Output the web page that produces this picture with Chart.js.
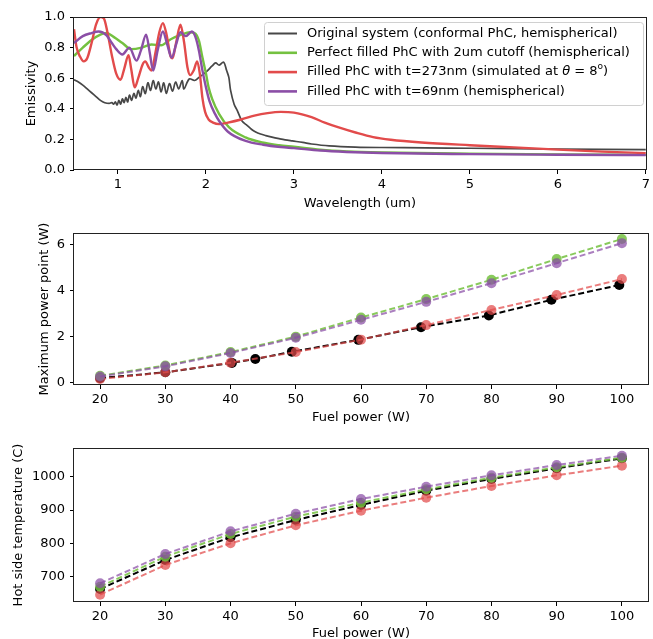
<!DOCTYPE html>
<html>
<head>
<meta charset="utf-8">
<script src="https://cdn.jsdelivr.net/npm/chart.js@4.4.1/dist/chart.umd.min.js"></script>
<style>
  html, body { margin:0; padding:0; background:#fff; overflow:hidden; }
  .box { position:absolute; left:0; width:653px; }
</style>
</head>
<body>
<div class="box" style="top:0;height:215px"><canvas id="c1" width="653" height="215" style="width:653px;height:215px"></canvas></div>
<div class="box" style="top:215px;height:210px"><canvas id="c2" width="653" height="210" style="width:653px;height:210px"></canvas></div>
<div class="box" style="top:425px;height:220px"><canvas id="c3" width="653" height="220" style="width:653px;height:220px"></canvas></div>
<script>
// ====== DATA: emissivity spectra ======
const lamGray  = [0.50,0.55,0.60,0.65,0.70,0.75,0.80,0.85,0.90,0.93,0.95,0.97,0.99,1.01,1.03,1.05,1.07,1.09,1.11,1.13,1.155,1.18,1.205,1.23,1.255,1.28,1.31,1.34,1.37,1.40,1.43,1.46,1.49,1.52,1.55,1.585,1.62,1.655,1.69,1.73,1.75,1.81,1.87,1.92,2.00,2.07,2.11,2.15,2.20,2.235,2.26,2.28,2.32,2.355,2.41,2.47,2.52,2.56,2.62,2.68,2.75,2.83,2.90,2.98,3.10,3.20,3.40,3.70,4.00,4.50,5.00,6.00,7.00];
const emisGray = [0.59,0.575,0.555,0.53,0.505,0.48,0.455,0.44,0.435,0.44,0.43,0.445,0.425,0.455,0.43,0.465,0.44,0.475,0.445,0.49,0.455,0.50,0.47,0.52,0.48,0.545,0.50,0.57,0.52,0.585,0.53,0.575,0.51,0.57,0.50,0.565,0.515,0.575,0.53,0.585,0.53,0.595,0.585,0.605,0.64,0.68,0.70,0.685,0.705,0.65,0.605,0.52,0.43,0.39,0.32,0.29,0.265,0.25,0.235,0.225,0.215,0.205,0.197,0.19,0.18,0.17,0.158,0.15,0.147,0.145,0.142,0.137,0.133];

const lamGreen  = [0.50,0.60,0.70,0.80,0.87,0.95,1.05,1.15,1.27,1.38,1.49,1.60,1.72,1.82,1.87,1.92,1.96,2.00,2.03,2.07,2.15,2.26,2.45,2.64,2.83,3.00,3.30,3.60,4.00,5.00,6.00,7.00];
const emisGreen = [0.745,0.80,0.85,0.885,0.895,0.87,0.83,0.79,0.80,0.82,0.815,0.855,0.885,0.90,0.895,0.845,0.735,0.63,0.54,0.465,0.365,0.28,0.213,0.18,0.162,0.152,0.133,0.122,0.115,0.107,0.102,0.099];

const lamRed  = [0.50,0.53,0.57,0.61,0.65,0.70,0.75,0.80,0.84,0.88,0.93,0.98,1.03,1.07,1.12,1.15,1.19,1.23,1.28,1.31,1.35,1.38,1.43,1.47,1.51,1.55,1.60,1.62,1.66,1.71,1.75,1.79,1.82,1.86,1.90,1.93,1.96,1.99,2.03,2.08,2.15,2.25,2.40,2.55,2.70,2.85,3.00,3.20,3.35,3.50,3.70,3.90,4.10,4.45,5.00,5.50,6.00,6.50,7.00];
const emisRed = [0.92,0.80,0.74,0.71,0.73,0.83,0.95,1.00,0.99,0.90,0.75,0.63,0.59,0.66,0.75,0.66,0.54,0.60,0.69,0.71,0.67,0.65,0.78,0.90,0.96,0.89,0.74,0.73,0.83,0.95,0.84,0.67,0.62,0.65,0.71,0.63,0.47,0.38,0.33,0.31,0.30,0.31,0.33,0.355,0.372,0.38,0.375,0.345,0.31,0.28,0.245,0.215,0.198,0.18,0.162,0.148,0.133,0.12,0.11];

const lamPurple  = [0.50,0.60,0.70,0.78,0.87,0.93,0.98,1.05,1.13,1.21,1.26,1.32,1.36,1.40,1.45,1.51,1.56,1.61,1.66,1.71,1.77,1.84,1.88,1.92,1.96,2.00,2.04,2.10,2.15,2.25,2.45,2.65,2.85,3.00,3.30,3.60,4.00,5.00,6.00,7.00];
const emisPurple = [0.83,0.875,0.895,0.905,0.88,0.83,0.79,0.755,0.80,0.715,0.78,0.885,0.77,0.65,0.78,0.905,0.82,0.735,0.82,0.90,0.875,0.905,0.87,0.78,0.65,0.54,0.45,0.37,0.32,0.25,0.19,0.165,0.15,0.143,0.127,0.118,0.111,0.104,0.10,0.097];

const lamTicks = [1,2,3,4,5,6,7];
const emisTicks = [0,0.2,0.4,0.6,0.8,1.0];

// ====== DATA: fuel power sweeps ======
const fuel = [20,30,40,50,60,70,80,90,100];
const fuelBlack = [20,30,40.2,43.8,49.4,59.6,69.2,79.6,89.2,99.6];
const mppBlack  = [0.20,0.45,0.86,1.03,1.34,1.86,2.41,2.92,3.60,4.24];
const mppGreen  = [0.30,0.75,1.33,2.00,2.83,3.63,4.47,5.37,6.24];
const mppRed    = [0.16,0.45,0.87,1.33,1.87,2.50,3.16,3.81,4.50];
const mppPurple = [0.27,0.71,1.29,1.95,2.73,3.51,4.32,5.19,6.06];

const tempBlack  = [663,750,818,870,915,958,993,1025,1055];
const tempGreen  = [670,760,828,880,922,962,997,1028,1057];
const tempRed    = [646,735,800,854,898,937,972,1004,1033];
const tempPurple = [680,768,836,889,933,970,1004,1035,1063];

const fuelTicks = [20,30,40,50,60,70,80,90,100];
const mppTicks = [0,2,4,6];
const tempTicks = [700,800,900,1000];

// ====== STYLE ======
const GRAY = '#474747', GREEN = '#74c140', RED = '#e24b4b', PURPLE = '#8b4ea6';
const alpha = (hex, a) => {
  const n = parseInt(hex.slice(1), 16);
  return `rgba(${n>>16},${(n>>8)&255},${n&255},${a})`;
};
Chart.defaults.font.family = "'DejaVu Sans', sans-serif";
Chart.defaults.font.size = 13;
Chart.defaults.color = '#000';

const pts = (xs, ys) => xs.map((x, i) => ({x, y: ys[i]}));

// frame around the plot area (matplotlib-like box)
const frame = {
  id: 'frame',
  afterDatasetsDraw(c){
    const {ctx, chartArea:a} = c;
    ctx.save();
    ctx.strokeStyle = '#222'; ctx.lineWidth = 1;
    ctx.strokeRect(Math.round(a.left)-0.5, Math.round(a.top)+0.5, Math.round(a.right-a.left)+1, Math.round(a.bottom-a.top)-1);
    ctx.restore();
  }
};

function scales(o){
  return {
    x: {
      type: 'linear', min: o.xmin, max: o.xmax,
      afterBuildTicks: s => { s.ticks = o.xticks.map(v => ({value: v})); },
      afterFit: s => { s.height = o.xh; },
      grid: { drawOnChartArea: false, tickLength: 4, color: '#000', tickColor: '#000' },
      border: { display: false },
      ticks: { padding: 3, maxRotation: 0, autoSkip: false, callback: v => String(v) },
      title: { display: true, text: o.xtitle, padding: {top: 0, bottom: o.xtp} }
    },
    y: {
      type: 'linear', min: o.ymin, max: o.ymax,
      afterBuildTicks: s => { s.ticks = o.yticks.map(v => ({value: v})); },
      afterFit: s => { s.width = 74; },
      grid: { drawOnChartArea: false, tickLength: 4, color: '#000', tickColor: '#000' },
      border: { display: false },
      ticks: { padding: 5, autoSkip: false, callback: o.yfmt || (v => String(v)) },
      title: { display: true, text: o.ytitle, padding: {top: o.ytp, bottom: 0} }
    }
  };
}

const baseOpts = (pad, sc) => ({
  responsive: false, animation: false,
  layout: { padding: pad },
  plugins: { legend: { display: false }, tooltip: { enabled: false } },
  scales: sc
});

// ====== TOP: emissivity ======
const legendRows = [
  { color: GRAY,   lw: 2,   parts: [['Original system (conformal PhC, hemispherical)']] },
  { color: GREEN,  lw: 2.6, parts: [['Perfect filled PhC with 2um cutoff (hemispherical)']] },
  { color: RED,    lw: 2.6, parts: [['Filled PhC with t=273nm (simulated at '], ['θ','italic'], [' = 8'], ['o','sup'], [')']] },
  { color: PURPLE, lw: 2.6, parts: [['Filled PhC with t=69nm (hemispherical)']] }
];
const legendBox = {
  id: 'legendBox',
  afterDraw(c){
    const ctx = c.ctx;
    ctx.save();
    const x0 = 264.5, y0 = 22.5, w = 379, h = 83, r = 3;
    ctx.beginPath();
    ctx.moveTo(x0+r, y0); ctx.lineTo(x0+w-r, y0); ctx.arcTo(x0+w, y0, x0+w, y0+r, r);
    ctx.lineTo(x0+w, y0+h-r); ctx.arcTo(x0+w, y0+h, x0+w-r, y0+h, r);
    ctx.lineTo(x0+r, y0+h); ctx.arcTo(x0, y0+h, x0, y0+h-r, r);
    ctx.lineTo(x0, y0+r); ctx.arcTo(x0, y0, x0+r, y0, r);
    ctx.closePath();
    ctx.fillStyle = 'rgba(255,255,255,0.85)'; ctx.fill();
    ctx.strokeStyle = '#d0d0d0'; ctx.lineWidth = 1; ctx.stroke();
    legendRows.forEach((row, i) => {
      const y = 33.5 + i * 19.3;
      ctx.strokeStyle = row.color; ctx.lineWidth = row.lw;
      ctx.beginPath(); ctx.moveTo(268, y); ctx.lineTo(297, y); ctx.stroke();
      let x = 307;
      ctx.fillStyle = '#000'; ctx.textBaseline = 'middle';
      row.parts.forEach(([t, kind]) => {
        let dy = 0;
        if (kind === 'italic') ctx.font = "italic 13px 'DejaVu Sans'";
        else if (kind === 'sup') { ctx.font = "9px 'DejaVu Sans'"; dy = -5; }
        else ctx.font = "13px 'DejaVu Sans'";
        ctx.fillText(t, x, y + dy);
        x += ctx.measureText(t).width;
      });
    });
    ctx.restore();
  }
};

const specLine = (label, xs, ys, color, lw, order, smooth) => ({
  label, data: pts(xs, ys), borderColor: color, borderWidth: lw,
  pointRadius: 0, fill: false, order,
  ...(smooth ? { tension: 0.35 } : { cubicInterpolationMode: 'monotone' })
});

new Chart(document.getElementById('c1'), {
  type: 'line',
  data: { datasets: [
    specLine('Original system (conformal PhC, hemispherical)', lamGray, emisGray, GRAY, 1.7, 4, true),
    specLine('Perfect filled PhC with 2um cutoff (hemispherical)', lamGreen, emisGreen, GREEN, 2.4, 3),
    specLine('Filled PhC with t=273nm (simulated at θ = 8o)', lamRed, emisRed, RED, 2.4, 2),
    specLine('Filled PhC with t=69nm (hemispherical)', lamPurple, emisPurple, PURPLE, 2.4, 1)
  ]},
  options: baseOpts({top: 17, right: 3, left: 0, bottom: 0}, scales({
    xmin: 0.5, xmax: 7, xticks: lamTicks, xh: 45, xtp: 4, xtitle: 'Wavelength (um)',
    ymin: 0, ymax: 1, yticks: emisTicks, ytp: 24, ytitle: 'Emissivity', yfmt: v => v.toFixed(1)
  })),
  plugins: [frame, legendBox]
});

// ====== fuel power sweeps ======
const sweep = (label, xs, ys, color, a, order) => ({
  label, data: pts(xs, ys), borderColor: alpha(color, a), backgroundColor: alpha(color, a),
  borderWidth: 2, borderDash: [6, 3], pointRadius: 5, pointBorderWidth: 0,
  tension: 0, fill: false, order
});

new Chart(document.getElementById('c2'), {
  type: 'line',
  data: { datasets: [
    sweep('original', fuelBlack, mppBlack, '#000000', 1, 4),
    sweep('t=273nm', fuel, mppRed, RED, 0.72, 3),
    sweep('perfect', fuel, mppGreen, GREEN, 0.85, 2),
    sweep('t=69nm', fuel, mppPurple, PURPLE, 0.72, 1)
  ]},
  options: baseOpts({top: 18, right: 4, left: 0, bottom: 0}, scales({
    xmin: 16, xmax: 104, xticks: fuelTicks, xh: 40, xtp: 0, xtitle: 'Fuel power (W)',
    ymin: -0.1, ymax: 6.5, yticks: mppTicks, ytp: 37, ytitle: 'Maximum power point (W)'
  })),
  plugins: [frame]
});

new Chart(document.getElementById('c3'), {
  type: 'line',
  data: { datasets: [
    sweep('original', fuel, tempBlack, '#000000', 1, 4),
    sweep('t=273nm', fuel, tempRed, RED, 0.72, 3),
    sweep('perfect', fuel, tempGreen, GREEN, 0.85, 2),
    sweep('t=69nm', fuel, tempPurple, PURPLE, 0.72, 1)
  ]},
  options: baseOpts({top: 23, right: 4, left: 0, bottom: 0}, scales({
    xmin: 16, xmax: 104, xticks: fuelTicks, xh: 43, xtp: 4, xtitle: 'Fuel power (W)',
    ymin: 624, ymax: 1086, yticks: tempTicks, ytp: 11, ytitle: 'Hot side temperature (C)'
  })),
  plugins: [frame]
});
</script>
</body>
</html>
